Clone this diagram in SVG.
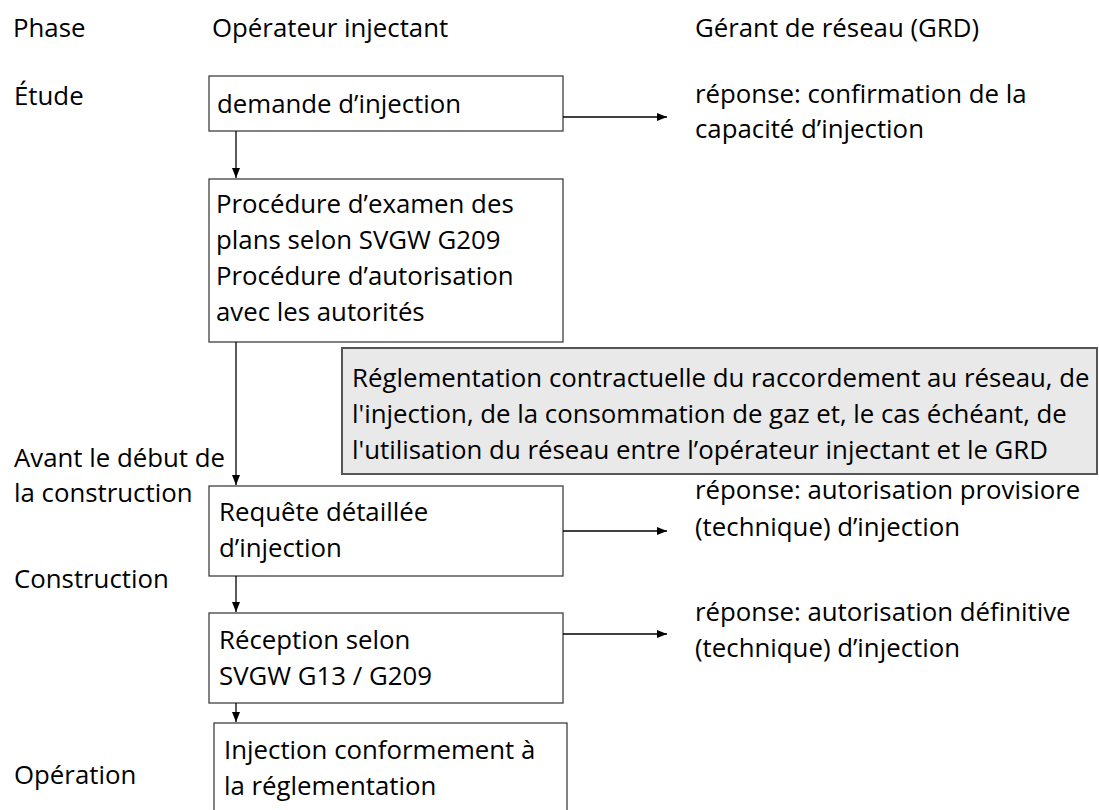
<svg xmlns="http://www.w3.org/2000/svg" width="1099" height="810" viewBox="0 0 1099 810">
<style>
text{font-family:"Open Sans","Noto Sans","Liberation Sans",sans-serif;font-size:25.8px;fill:#000}
.box{fill:#fff;stroke:#404040;stroke-width:1.3}
.grey{fill:#e9e9e9;stroke:#555;stroke-width:2}
.con{stroke:#000;stroke-width:1.3;fill:none}
</style>
<defs>
<marker id="ah" viewBox="0 0 10 10" refX="10" refY="5" markerWidth="10" markerHeight="10" markerUnits="userSpaceOnUse" orient="auto">
<path d="M0,1 L10,5 L0,9 Z" fill="#000"/>
</marker>
</defs>
<rect width="1099" height="810" fill="#fff"/>
<g id="labels">
<text x="13" y="37">Phase</text>
<text x="212" y="37">Opérateur injectant</text>
<text x="695" y="37">Gérant de réseau (GRD)</text>
<text x="14" y="105">Étude</text>
<text x="14" y="467">Avant le début de</text>
<text x="14" y="502">la construction</text>
<text x="14" y="588">Construction</text>
<text x="14" y="784">Opération</text>
</g>
<g id="n1"><rect class="box" x="209" y="76" width="354" height="55"/><text x="217" y="113">demande d’injection</text></g>
<g id="n2"><rect class="box" x="209" y="179" width="354" height="163"/>
<text x="216" y="213">Procédure d’examen des</text>
<text x="216" y="249">plans selon SVGW G209</text>
<text x="216" y="285">Procédure d’autorisation</text>
<text x="216" y="321">avec les autorités</text></g>
<g id="n3"><rect class="grey" x="342" y="348" width="755" height="126"/>
<text x="352" y="387">Réglementation contractuelle du raccordement au réseau, de</text>
<text x="352" y="423">l'injection, de la consommation de gaz et, le cas échéant, de</text>
<text x="352" y="459">l'utilisation du réseau entre l’opérateur injectant et le GRD</text></g>
<g id="n4"><rect class="box" x="209" y="486" width="354" height="90"/>
<text x="219" y="521">Requête détaillée</text>
<text x="219" y="557">d’injection</text></g>
<g id="n5"><rect class="box" x="209" y="613" width="354" height="90"/>
<text x="219" y="649">Réception selon</text>
<text x="219" y="685">SVGW G13 / G209</text></g>
<g id="n6"><rect class="box" x="214" y="723" width="353" height="100"/>
<text x="224" y="759">Injection conformement à</text>
<text x="224" y="795">la réglementation</text></g>
<g id="r1"><text x="695" y="103">réponse: confirmation de la</text><text x="695" y="138">capacité d’injection</text></g>
<g id="r2"><text x="695" y="499">réponse: autorisation provisiore</text><text x="695" y="536">(technique) d’injection</text></g>
<g id="r3"><text x="695" y="621">réponse: autorisation définitive</text><text x="695" y="657">(technique) d’injection</text></g>
<g id="connectors">
<line class="con" x1="563" y1="117" x2="667" y2="117" marker-end="url(#ah)"/>
<line class="con" x1="563" y1="531" x2="667" y2="531" marker-end="url(#ah)"/>
<line class="con" x1="563" y1="634" x2="667" y2="634" marker-end="url(#ah)"/>
<line class="con" x1="236" y1="131" x2="236" y2="178" marker-end="url(#ah)"/>
<line class="con" x1="236" y1="342" x2="236" y2="485" marker-end="url(#ah)"/>
<line class="con" x1="236" y1="576" x2="236" y2="612" marker-end="url(#ah)"/>
<line class="con" x1="236" y1="703" x2="236" y2="722" marker-end="url(#ah)"/>
</g>
</svg>
